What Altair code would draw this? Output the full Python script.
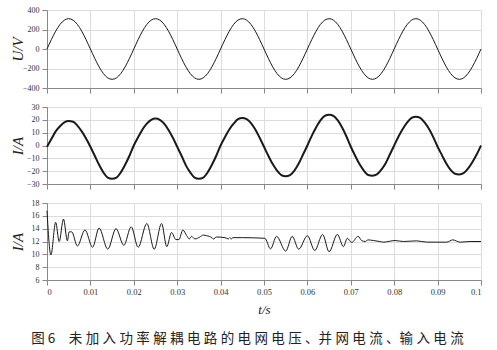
import altair as alt
import pandas as pd

# ---------------- data ----------------
# sample times for grid voltage and grid current (s)
t_grid = [k / 1000 for k in range(101)]

# grid voltage U/V
u_grid = [
    0, 96, 183, 252, 296, 311, 296, 252, 183, 96,
    0, -96, -183, -252, -296, -311, -296, -252, -183, -96,
    0, 96, 183, 252, 296, 311, 296, 252, 183, 96,
    0, -96, -183, -252, -296, -311, -296, -252, -183, -96,
    0, 96, 183, 252, 296, 311, 296, 252, 183, 96,
    0, -96, -183, -252, -296, -311, -296, -252, -183, -96,
    0, 96, 183, 252, 296, 311, 296, 252, 183, 96,
    0, -96, -183, -252, -296, -311, -296, -252, -183, -96,
    0, 96, 183, 252, 296, 311, 296, 252, 183, 96,
    0, -96, -183, -252, -296, -311, -296, -252, -183, -96,
    0,
]

# grid-connected current I/A
i_grid = [
    -1, 5, 11, 15, 18, 19, 18.5, 15.5, 11, 5.5,
    -1, -8, -15, -21, -25, -26, -25, -21, -15, -8,
    0, 6.5, 12.5, 17, 20, 21, 20, 17, 12, 6,
    -1, -8, -15.5, -21, -25, -26, -25, -21, -15, -8,
    0, 6.5, 12.5, 17, 20.5, 21.5, 20.5, 17.5, 12.5, 6,
    -1, -8, -14.5, -19.5, -23, -24, -23, -19.5, -14, -7,
    0, 7.5, 14, 19.5, 23, 24, 23, 19.5, 14, 7,
    -1, -8, -14.5, -19.5, -23, -23.5, -22.5, -19, -14, -7,
    0, 7, 13, 18, 21.5, 22.5, 21.5, 18, 13, 6.5,
    -1, -7.5, -14, -19, -22, -22.5, -21.5, -18, -13, -7,
    0,
]

# input current I/A
t_in = [0.0, 0.0009, 0.002, 0.0028, 0.0038, 0.0047, 0.0051, 0.0057, 0.007, 0.00875,
        0.0105, 0.012, 0.014, 0.0159, 0.0177, 0.0194, 0.021, 0.023, 0.0247, 0.0264,
        0.0276, 0.0287, 0.0297, 0.0304, 0.0313, 0.0322, 0.0328, 0.0333, 0.0341, 0.0352,
        0.036, 0.0368, 0.038, 0.0383, 0.0391, 0.041, 0.0418, 0.0421, 0.0425, 0.0428,
        0.045, 0.0502, 0.0515, 0.0529, 0.055, 0.0565, 0.058, 0.060, 0.0617, 0.0635,
        0.065, 0.0669, 0.0683, 0.0692, 0.0702, 0.0717, 0.0725, 0.0733, 0.074, 0.0752,
        0.0767, 0.0775, 0.0802, 0.0821, 0.0852, 0.0875, 0.0921, 0.0935, 0.0952, 0.0975,
        0.1]
i_in = [16.8, 9.9, 15.0, 12.0, 15.5, 12.1, 13.5, 13.5, 11.3, 13.8,
        11.1, 14.1, 10.8, 14.0, 11.4, 14.3, 11.1, 14.8, 10.8, 14.8,
        11.2, 13.4, 12.3, 12.3, 13.8, 12.9, 12.4, 12.8, 12.4, 12.7,
        13.0, 12.9, 12.6, 12.4, 12.7, 12.6, 12.4, 12.6, 12.4, 12.6,
        12.6, 12.5, 10.85, 12.8, 10.5, 12.8, 10.8, 12.9, 10.6, 13.1,
        10.4, 13.1, 11.2, 12.5, 11.85, 12.8, 12.15, 12.0, 12.25, 12.15,
        12.0, 11.9, 12.15, 12.0, 12.1, 11.9, 11.9, 12.25, 11.9, 12.0,
        12.0]

t_ticks = [0, 0.01, 0.02, 0.03, 0.04, 0.05, 0.06, 0.07, 0.08, 0.09, 0.1]
u_ticks = [-400, -200, 0, 200, 400]
i_ticks = [-30, -20, -10, 0, 10, 20, 30]
in_ticks = [6, 8, 10, 12, 14, 16, 18]

caption = ("图 6\u2003未\u2005加\u2005入\u2005功\u2005率\u2005解\u2005耦\u2005电\u2005路"
           "\u2005的\u2005电\u2005网\u2005电\u2005压\u2005、并\u2005网\u2005电\u2005流"
           "\u2005、输\u2005入\u2005电\u2005流")

SERIF = "Liberation Serif"
W = 434


def panel(df, ycol, ytitle, ydomain, yticks, h, sw, interp, bottom):
    xkw = dict(values=t_ticks, format="~g", grid=True, labels=bottom,
               labelFontSize=8.5, labelPadding=2, labelFont=SERIF,
               labelColor="#333")
    if bottom:
        xkw.update(title="t/s", titleFontSize=13, titleFont=SERIF,
                   titleFontStyle="italic", titleFontWeight="normal",
                   titlePadding=8, titleColor="#222")
    else:
        xkw.update(title=None)
    return (
        alt.Chart(df)
        .mark_line(color="#1a1a1a", strokeWidth=sw, interpolate=interp)
        .encode(
            x=alt.X("t:Q", scale=alt.Scale(domain=[0, 0.1], nice=False),
                    axis=alt.Axis(**xkw)),
            y=alt.Y(f"{ycol}:Q", scale=alt.Scale(domain=ydomain, nice=False),
                    axis=alt.Axis(values=yticks, grid=True, title=ytitle,
                                  labelFontSize=8, labelPadding=3,
                                  labelFont=SERIF, labelColor="#333",
                                  titleX=-30, titleY=h / 2, titleAngle=270,
                                  titleAlign="center", titleBaseline="middle",
                                  titleFontSize=15, titleFont=SERIF,
                                  titleFontStyle="italic",
                                  titleFontWeight="normal", titleColor="#222")),
        )
        .properties(width=W, height=h)
    )


df_u = pd.DataFrame({"t": t_grid, "u": u_grid})
df_i = pd.DataFrame({"t": t_grid, "i": i_grid})
df_in = pd.DataFrame({"t": t_in, "i": i_in})

p1 = panel(df_u, "u", "U/V", [-400, 400], u_ticks, 78, 1.0, "monotone", False)
p2 = panel(df_i, "i", "I/A", [-30, 30], i_ticks, 77, 2.0, "monotone", False)
p3 = panel(df_in, "i", "I/A", [6, 18], in_ticks, 77, 1.0, "monotone", True)

chart = (
    alt.vconcat(p1, p2, p3, spacing=8)
    .properties(
        padding={"left": 9, "top": 5, "right": 8, "bottom": 2},
        title=alt.TitleParams(text=caption, orient="bottom", anchor="middle",
                              font="Noto Sans CJK SC", fontSize=13.5,
                              fontWeight="normal", color="#222", offset=15),
    )
    .configure_axis(
        domain=False, ticks=False, gridColor="#c4c4c4", gridWidth=0.7,
    )
    .configure_view(stroke="#444", strokeWidth=1)
    .configure(background="white")
)

chart.save("out.html", embed_options={"renderer": "svg", "actions": False})
